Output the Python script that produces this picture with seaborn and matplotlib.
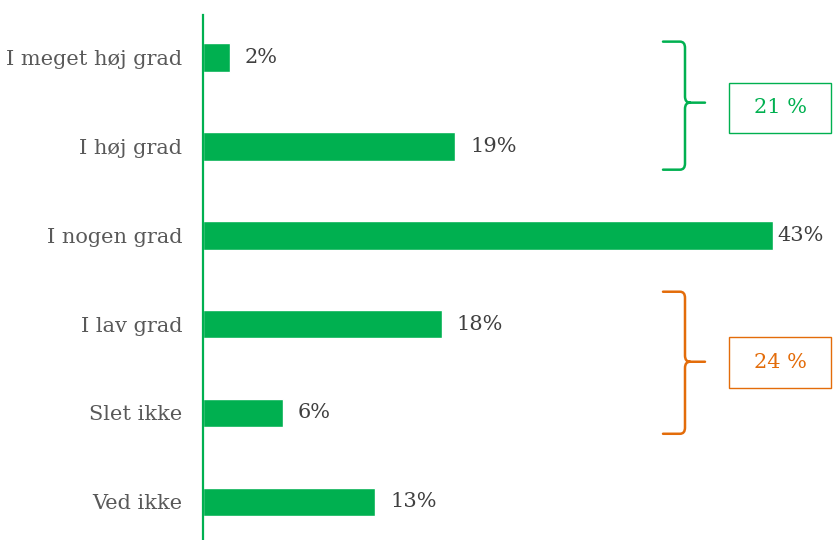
import matplotlib
matplotlib.use("Agg")
import matplotlib.pyplot as plt
import seaborn as sns
import pandas as pd
from matplotlib.path import Path
from matplotlib.patches import PathPatch, Rectangle

categories = ["I meget høj grad", "I høj grad", "I nogen grad", "I lav grad", "Slet ikke", "Ved ikke"]
values = [2, 19, 43, 18, 6, 13]
group_labels = ["21 %", "24 %"]
group_spans = [(0, 1), (3, 4)]

GREEN = "#00B050"
ORANGE = "#E36C0A"
group_colors = [GREEN, ORANGE]

sns.set_theme(style="white")
plt.rcParams["font.family"] = ["DejaVu Serif"]

df = pd.DataFrame({"cat": categories, "val": values})

fig = plt.figure(figsize=(8.35, 5.4), dpi=100)
ax = fig.add_axes([203 / 835, 0, 1 - 203 / 835, 1 - 15 / 540])
sns.barplot(data=df, y="cat", x="val", orient="h", color=GREEN, width=0.32,
            saturation=1, ax=ax)

ax.set_xlim(0, 43 * 632 / 570)
ax.set_ylim(5.43, -0.48)
ax.set_xlabel("")
ax.set_ylabel("")
ax.set_xticks([])
for s in ["top", "right", "bottom"]:
    ax.spines[s].set_visible(False)
ax.spines["left"].set_color(GREEN)
ax.spines["left"].set_linewidth(1.6)
ax.tick_params(axis="y", length=0, pad=15, labelsize=15, labelcolor="#595959")

vmax = max(values)
for i, v in enumerate(values):
    off = 3 if v == vmax else 11
    ax.annotate(f"{v}%", xy=(v, i), xytext=(off, 0), textcoords="offset points",
                va="center", ha="left", fontsize=15, color="#404040")

# pixel->data helpers for the braces (x: px from spine, scale 570px / 43)
def xd(px):
    return (px - 203) * 43 / 570

def brace(ax, x0, x1, xt, ytop, ybot, ymid, color):
    rx = xd(x1) - xd(x1 - 5)
    ry = 0.07
    X0, X1, XT = xd(x0), xd(x1), xd(xt)
    verts = [
        (X0, ytop), (X1 - rx, ytop),
        (X1, ytop), (X1, ytop + ry),
        (X1, ymid - ry),
        (X1, ymid), (X1 + rx, ymid),
        (XT, ymid),
        (X1 + rx, ymid),
        (X1, ymid), (X1, ymid + ry),
        (X1, ybot - ry),
        (X1, ybot), (X1 - rx, ybot),
        (X0, ybot),
    ]
    codes = [Path.MOVETO, Path.LINETO,
             Path.CURVE3, Path.CURVE3,
             Path.LINETO,
             Path.CURVE3, Path.CURVE3,
             Path.LINETO,
             Path.MOVETO,
             Path.CURVE3, Path.CURVE3,
             Path.LINETO,
             Path.CURVE3, Path.CURVE3,
             Path.LINETO]
    ax.add_patch(PathPatch(Path(verts, codes), fill=False, edgecolor=color, lw=1.8,
                           clip_on=False, capstyle="round", joinstyle="round"))

def ypx(p):
    return (p - 58) / 88.8

brace_px = [(42, 170, 103), (292, 434, 362)]
box_px = [(83, 133), (337, 388)]
for (i0, i1), lab, col, (yt, yb, ym), (by0, by1) in zip(group_spans, group_labels, group_colors, brace_px, box_px):
    brace(ax, 663, 685, 705, ypx(yt), ypx(yb), ypx(ym), col)
    bx0, bx1 = xd(729), xd(831)
    ax.add_patch(Rectangle((bx0, ypx(by0)), bx1 - bx0, ypx(by1) - ypx(by0), fill=False,
                           edgecolor=col, lw=1.0, clip_on=False))
    ax.text((bx0 + bx1) / 2, (ypx(by0) + ypx(by1)) / 2, lab, ha="center", va="center",
            fontsize=15, color=col)

fig.savefig("out.png", dpi=100)
